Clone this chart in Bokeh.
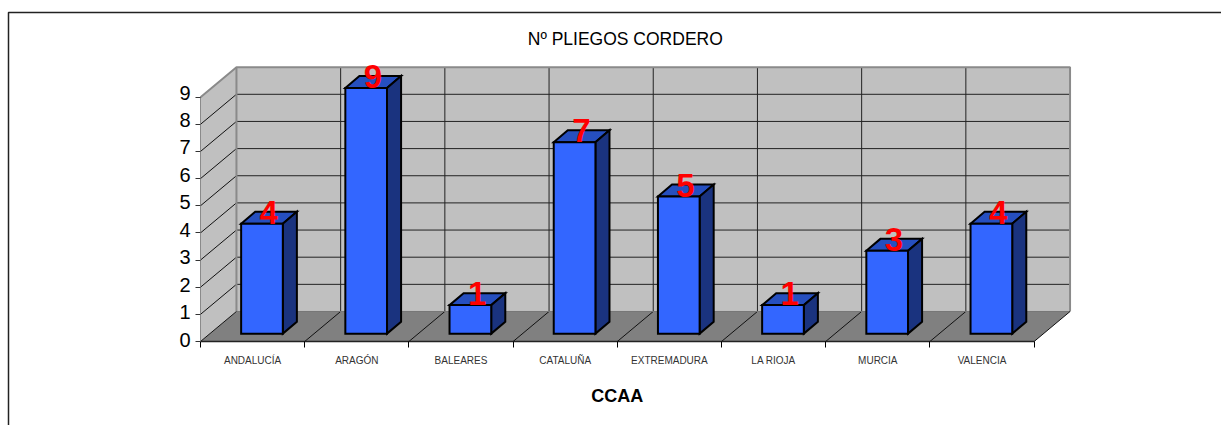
from bokeh.plotting import figure
from bokeh.embed import file_html
from bokeh.resources import INLINE
from bokeh.models import (ColumnDataSource, LabelSet, Label, FixedTicker, PolyAnnotation, Range1d,
                          LinearAxis)
from bokeh.core.properties import value

categories = ["ANDALUCÍA", "ARAGÓN", "BALEARES", "CATALUÑA", "EXTREMADURA", "LA RIOJA", "MURCIA", "VALENCIA"]
counts = [4, 9, 1, 7, 5, 1, 3, 4]
y_ticks = list(range(10))
title_text = "Nº PLIEGOS CORDERO"
x_title = "CCAA"

# pseudo-3D projection, in axis units
WALL_DX, WALL_DY = 0.345, 1.105
BAR_SHIFT_X, BAR_BOTTOM, BAR_TOP = 0.09, 0.29, 0.34
BAR_DX, BAR_DY = 0.135, 0.44
BAR_LEFT, BAR_W = 0.30, 0.40
N = len(categories)
YMAX = y_ticks[-1]

W, H = 1221, 425
X0, Y0 = 200, 341          # pixel of the axes' origin
SX, SY = 104.2, 27.15      # pixels per category / per unit
p = figure(width=W, height=H, output_backend="svg", toolbar_location=None,
           x_axis_type=None, y_axis_type=None,
           x_range=Range1d(-X0 / SX, (W - X0) / SX), y_range=Range1d(-(H - Y0) / SY, Y0 / SY),
           min_border=0, background_fill_color="white")
p.outline_line_color = None
p.grid.visible = False

# walls and floor
GREY = "#C0C0C0"
p.patch([0, WALL_DX, WALL_DX, 0], [0, WALL_DY, YMAX + WALL_DY, YMAX], fill_color=GREY, line_color=None)
p.patch([WALL_DX, N + WALL_DX, N + WALL_DX, WALL_DX], [WALL_DY, WALL_DY, YMAX + WALL_DY, YMAX + WALL_DY],
        fill_color=GREY, line_color=None)
p.patch([0, N, N + WALL_DX, WALL_DX], [0, 0, WALL_DY, WALL_DY], fill_color="#808080", line_color=None)

# gridlines
vals = y_ticks[1:-1]
p.segment([WALL_DX] * len(vals), [v + WALL_DY for v in vals], [N + WALL_DX] * len(vals), [v + WALL_DY for v in vals],
          line_color="#222222", line_width=1)
p.segment([0] * len(vals), vals, [WALL_DX] * len(vals), [v + WALL_DY for v in vals], line_color="#111111", line_width=1)
cats = list(range(1, N))
p.segment([c + WALL_DX for c in cats], [WALL_DY] * len(cats), [c + WALL_DX for c in cats], [YMAX + WALL_DY] * len(cats),
          line_color="#222222", line_width=1)
p.segment(cats, [0] * len(cats), [c + WALL_DX for c in cats], [WALL_DY] * len(cats), line_color="#111111", line_width=1)

# wall outline
p.line([0, WALL_DX, N + WALL_DX, N + WALL_DX], [YMAX, YMAX + WALL_DY, YMAX + WALL_DY, WALL_DY],
       line_color="#8A8A8A", line_width=2)
p.line([WALL_DX, WALL_DX], [WALL_DY, YMAX + WALL_DY], line_color="#8A8A8A", line_width=2)
p.line([0, 0], [0, YMAX], line_color="#8A8A8A", line_width=1)
p.line([WALL_DX, N + WALL_DX], [WALL_DY, WALL_DY], line_color="#777777", line_width=1)
p.segment([0, N], [0, 0], [WALL_DX, N + WALL_DX], [WALL_DY, WALL_DY], line_color="#111111", line_width=1)

# bars
x0 = [i + BAR_SHIFT_X + BAR_LEFT for i in range(N)]
x1 = [x + BAR_W for x in x0]
y0 = BAR_BOTTOM
tops = [c + BAR_TOP for c in counts]
LW = 2
p.patches([[a, b, b + BAR_DX, a + BAR_DX] for a, b in zip(x0, x1)],
          [[t, t, t + BAR_DY, t + BAR_DY] for t in tops],
          fill_color="#264FBF", line_color="black", line_width=LW, line_join="miter")
p.patches([[b, b + BAR_DX, b + BAR_DX, b] for b in x1],
          [[y0, y0 + BAR_DY, t + BAR_DY, t] for t in tops],
          fill_color="#1A337F", line_color="black", line_width=LW, line_join="miter")
p.quad(left=x0, right=x1, bottom=[y0] * N, top=tops, fill_color="#3366FF", line_color="black", line_width=LW,
       line_join="miter")

# value labels
src = ColumnDataSource(dict(x=[(a + b) / 2 + 0.065 for a, b in zip(x0, x1)], y=tops, t=[str(c) for c in counts]))
p.add_layout(LabelSet(x="x", y="y", text="t", source=src, text_color="#FF0000", text_font=value("Liberation Sans"),
                      text_font_style="bold", text_font_size="33px", text_align="center",
                      text_baseline="alphabetic", y_offset=0))

# axes: ticks on the main range
yax = LinearAxis(ticker=FixedTicker(ticks=y_ticks), bounds=(0, YMAX), fixed_location=0)
yax.major_label_overrides = {v: "" for v in y_ticks}
yax.major_tick_out, yax.major_tick_in = 5, 0
yax.minor_tick_line_color = None
yax.major_tick_line_color = "#333333"
yax.axis_line_color = "#8A8A8A"
p.add_layout(yax, "left")

# tick labels sit on a slightly wider spacing than the ticks
LBL_Y0, LBL_SY = 339, 27.44
p.extra_y_ranges = {"labels": Range1d(-(H - LBL_Y0) / LBL_SY, LBL_Y0 / LBL_SY)}
yl = LinearAxis(ticker=FixedTicker(ticks=y_ticks), y_range_name="labels", fixed_location=0)
yl.axis_line_color = None
yl.major_tick_line_color = None
yl.minor_tick_line_color = None
yl.major_tick_out, yl.major_tick_in = 5, 0
yl.major_label_standoff = 5
yl.major_label_text_font = "Liberation Sans"
yl.major_label_text_font_size = "20px"
yl.major_label_text_color = "black"
p.add_layout(yl, "left")

xax = LinearAxis(ticker=FixedTicker(ticks=[i + 0.5 for i in range(N)], minor_ticks=list(range(N + 1))),
                 bounds=(0, N), fixed_location=0)
xax.major_label_overrides = {i + 0.5: c for i, c in enumerate(categories)}
xax.major_tick_line_color = None
xax.major_tick_out = 0
xax.minor_tick_out, xax.minor_tick_in = 6, 0
xax.minor_tick_line_color = "black"
xax.axis_line_color = "#222222"
xax.axis_line_width = 1.5
xax.major_label_text_font = "Liberation Sans"
xax.major_label_text_font_size = "10px"
xax.major_label_text_color = "#333333"
xax.major_label_standoff = 7
p.add_layout(xax, "below")

p.add_layout(Label(x=N / 2, y=0, y_offset=-54, text=x_title, text_align="center", text_baseline="middle",
                   text_font="Liberation Sans", text_font_style="bold", text_font_size="18px", text_color="black"))
p.add_layout(Label(x=N / 2, x_offset=8, y=YMAX + WALL_DY, y_offset=28, text=title_text, text_align="center",
                   text_baseline="middle", text_font="Liberation Sans", text_font_size="17.5px", text_color="black"))

# outer chart frame (open to the right and below)
p.add_layout(PolyAnnotation(xs=[8, 8, W + 40, W + 40], ys=[-40, H - 12, H - 12, -40], xs_units="screen", ys_units="screen",
                            fill_alpha=0, line_color="#222222", line_alpha=1, line_width=1.5))

open("out.html", "w").write(file_html(p, INLINE))
